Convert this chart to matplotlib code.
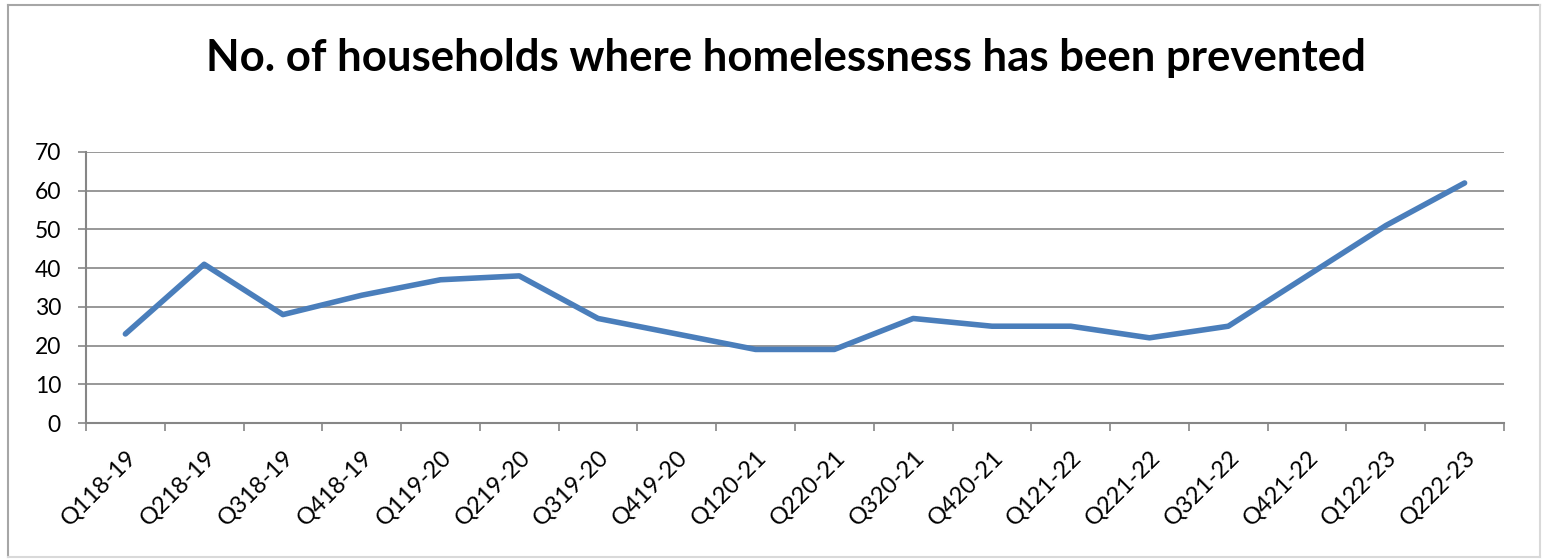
import numpy as np
import matplotlib
matplotlib.use('Agg')
import matplotlib.pyplot as plt
from matplotlib.lines import Line2D

quarters = ['Q118-19', 'Q218-19', 'Q318-19', 'Q418-19',
            'Q119-20', 'Q219-20', 'Q319-20', 'Q419-20',
            'Q120-21', 'Q220-21', 'Q320-21', 'Q420-21',
            'Q121-22', 'Q221-22', 'Q321-22', 'Q421-22',
            'Q122-23', 'Q222-23']
prevented = [23, 41, 28, 33, 37, 38, 27, 23, 19, 19, 27, 25, 25, 22, 25, 38, 51, 62]

plt.rcParams['font.family'] = ['Lato', 'DejaVu Sans']

W, H = 1546, 559
fig = plt.figure(figsize=(W / 100, H / 100), dpi=100)
ax = fig.add_axes([86 / W, 1 - 423 / H, (1504 - 86) / W, (423 - 152) / H])

x = np.arange(len(quarters))
ax.plot(x, prevented, color='#4A7EBB', lw=4, solid_joinstyle='round',
        solid_capstyle='round', zorder=3)

grey = '#868686'
ax.set_xlim(-0.5, len(quarters) - 0.5)
ax.set_ylim(0, 70)
ax.set_yticks(np.arange(0, 71, 10))
ax.grid(axis='y', color=grey, lw=1.2)
ax.set_axisbelow(True)

for s in ['top', 'right']:
    ax.spines[s].set_visible(False)
for s in ['left', 'bottom']:
    ax.spines[s].set_color(grey)
    ax.spines[s].set_linewidth(1.5)

ax.set_xticks(x)
ax.set_xticks(np.arange(-0.5, len(quarters), 1), minor=True)
ax.set_xticklabels(quarters, rotation=45, ha='right', va='top',
                   rotation_mode='anchor', fontsize=17)
ax.tick_params(axis='x', which='major', length=0, pad=17)
ax.tick_params(axis='x', which='minor', length=6, width=1.2, color=grey)
ax.tick_params(axis='y', length=6, width=1.2, color=grey, labelsize=16.5, pad=12)

fig.text(786 / W, 1 - 71 / H, 'No. of households where homelessness has been prevented',
         ha='center', va='baseline', fontsize=31.5, fontweight='bold')

# chart border
x0, x1 = 8 / W, 1540 / W
y0, y1 = 1 - 557 / H, 1 - 5 / H
fig.add_artist(Line2D([x0, x1], [y1, y1], color='#a6a6a6', lw=1.5, transform=fig.transFigure))
fig.add_artist(Line2D([x0, x0], [y0, y1], color='#a6a6a6', lw=1.5, transform=fig.transFigure))
fig.add_artist(Line2D([x0, x1], [y0, y0], color='#d9d9d9', lw=1.5, transform=fig.transFigure))
fig.add_artist(Line2D([x1, x1], [y0, y1], color='#d9d9d9', lw=1.5, transform=fig.transFigure))

fig.savefig('out.png', dpi=100)
